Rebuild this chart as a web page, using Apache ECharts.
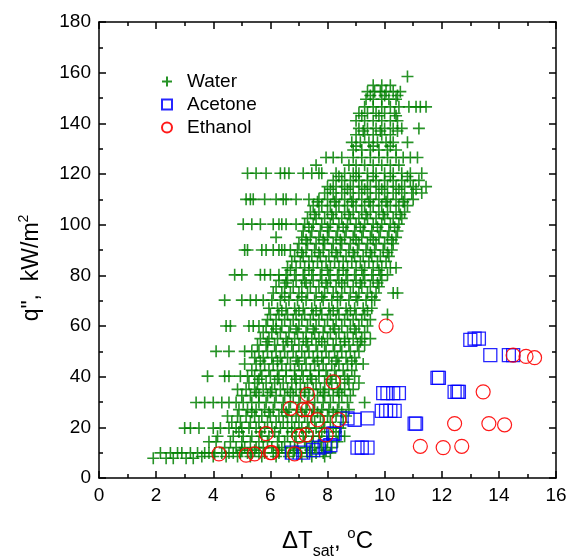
<!DOCTYPE html>
<html>
<head>
<meta charset="utf-8">
<script src="https://cdn.jsdelivr.net/npm/echarts@6/dist/echarts.min.js"></script>
<style>
  html, body { margin: 0; padding: 0; background: #fff; }
  #main { width: 575px; height: 556px; }
</style>
</head>
<body>
<div id="main"></div>
<script>
//- 水的数据：每行 [q, [dT...]]
var waterRows = [
  [7.8, [1.9, 2.35, 2.6, 3.05, 3.3]],
  [9.9, [2.15, 2.5, 2.75, 2.9, 3.2, 3.45, 3.7, 3.85, 4.05, 4.3, 4.55, 4.7, 4.95, 5.2, 5.35, 5.6, 5.8, 6.1, 6.3, 6.55, 6.8, 7.05, 7.3, 7.6, 7.85, 8.1]],
  [8.5, [3.6, 4.0, 4.45, 4.85, 5.3, 5.7, 6.2, 6.65, 7.1, 7.45, 7.9]],
  [11, [5.0, 5.45, 6.3, 6.85, 7.4, 7.95]],
  [12, [4.4, 4.8, 5.1, 5.5, 5.75, 6.05, 6.4, 6.7, 6.95, 7.25, 7.55, 7.8, 8.15]],
  [14.3, [3.85, 4.1, 4.6, 5.0, 5.3, 5.6, 5.9, 6.25, 6.5, 6.85, 7.2, 7.45, 7.75, 8.0, 8.35]],
  [16.5, [4.15, 4.7, 5.05, 5.35, 5.7, 5.95, 6.3, 6.6, 6.9, 7.15, 7.5, 7.7, 8.05, 8.4, 8.6]],
  [18.2, [4.9, 5.65, 6.15, 6.75, 7.25, 7.8, 8.3]],
  [19.7, [3.0, 3.2, 3.5, 4.0, 4.25, 4.55, 4.8, 5.0, 5.25, 5.5, 5.8, 6.05, 6.35, 6.6, 6.85, 7.1, 7.35, 7.6, 7.9, 8.2, 8.45]],
  [22, [4.65, 4.95, 5.3, 5.6, 5.9, 6.2, 6.45, 6.75, 7.0, 7.3, 7.55, 7.85, 8.1, 8.55]],
  [24.5, [4.5, 4.85, 5.15, 5.45, 5.7, 6.0, 6.3, 6.6, 6.9, 7.2, 7.45, 7.75, 8.0, 8.3, 8.65]],
  [26, [5.35, 5.95, 6.55, 7.1, 7.65, 8.2, 8.5]],
  [27, [4.9, 5.2, 5.5, 5.8, 6.1, 6.4, 6.65, 6.95, 7.25, 7.5, 7.8, 8.05, 8.35, 8.75]],
  [29.8, [3.4, 3.7, 4.0, 4.3, 4.55, 4.8, 5.05, 5.35, 5.6, 5.85, 6.15, 6.45, 6.7, 7.0, 7.3, 7.55, 7.85, 8.1, 8.4, 8.7, 9.3]],
  [32.5, [5.0, 5.3, 5.6, 5.9, 6.2, 6.5, 6.8, 7.05, 7.35, 7.65, 7.9, 8.2, 8.5, 8.8]],
  [33.8, [5.5, 6.0, 6.7, 7.2, 7.85, 8.4]],
  [35, [4.85, 5.15, 5.45, 5.75, 6.05, 6.35, 6.6, 6.9, 7.2, 7.5, 7.75, 8.05, 8.35, 8.6, 8.9]],
  [37.5, [5.25, 5.55, 5.85, 6.15, 6.45, 6.75, 7.05, 7.3, 7.6, 7.9, 8.15, 8.45, 8.75, 9.1]],
  [39, [5.6, 6.25, 6.9, 7.45, 8.1, 8.7]],
  [40.2, [3.8, 4.4, 4.55, 4.95, 5.2, 5.45, 5.7, 6.0, 6.3, 6.55, 6.85, 7.15, 7.4, 7.7, 8.0, 8.3, 8.6, 8.95]],
  [42.5, [5.35, 5.65, 5.95, 6.25, 6.55, 6.85, 7.1, 7.4, 7.7, 7.95, 8.25, 8.55, 8.85]],
  [45, [5.1, 5.5, 5.8, 6.1, 6.4, 6.7, 7.0, 7.25, 7.55, 7.85, 8.15, 8.4, 8.7, 9.0, 9.25]],
  [46.2, [5.65, 6.25, 6.95, 7.65, 8.3, 8.85]],
  [47.5, [5.45, 5.75, 6.05, 6.35, 6.6, 6.9, 7.2, 7.5, 7.8, 8.05, 8.35, 8.65, 8.95]],
  [50, [4.1, 4.55, 5.1, 5.35, 5.6, 5.9, 6.2, 6.5, 6.8, 7.1, 7.35, 7.65, 7.95, 8.25, 8.5, 8.8, 9.1]],
  [52.5, [5.55, 5.85, 6.15, 6.45, 6.75, 7.0, 7.3, 7.6, 7.9, 8.2, 8.45, 8.75, 9.05, 9.3]],
  [53.8, [5.9, 6.6, 7.25, 7.8, 8.6, 9.15]],
  [55, [5.65, 5.95, 6.25, 6.55, 6.85, 7.15, 7.45, 7.7, 8.0, 8.3, 8.6, 8.9, 9.2, 9.5]],
  [57.5, [5.75, 6.05, 6.35, 6.65, 6.95, 7.25, 7.55, 7.85, 8.1, 8.4, 8.7, 9.0, 9.3]],
  [58.8, [6.2, 6.9, 7.5, 8.25, 8.95]],
  [60, [4.45, 4.6, 5.25, 5.4, 5.6, 5.85, 6.1, 6.4, 6.7, 7.0, 7.3, 7.6, 7.9, 8.2, 8.5, 8.8, 9.1, 9.4]],
  [62.5, [5.9, 6.2, 6.5, 6.8, 7.1, 7.4, 7.7, 8.0, 8.3, 8.6, 8.9, 9.2, 9.5]],
  [64.5, [6.0, 6.3, 6.6, 6.9, 7.2, 7.5, 7.8, 8.1, 8.4, 8.7, 9.0, 9.3, 10.1]],
  [66, [6.4, 7.0, 7.6, 8.2, 8.8, 9.4]],
  [67, [5.95, 6.25, 6.55, 6.85, 7.15, 7.45, 7.75, 8.05, 8.35, 8.65, 8.95, 9.25, 9.55]],
  [70.2, [4.4, 5.0, 5.3, 5.5, 5.75, 6.05, 6.35, 6.65, 6.95, 7.25, 7.55, 7.85, 8.15, 8.45, 8.75, 9.05, 9.35, 9.65]],
  [71.5, [6.5, 7.1, 7.8, 8.35, 9.0, 9.55]],
  [73, [6.1, 6.4, 6.7, 7.0, 7.3, 7.6, 7.9, 8.2, 8.5, 8.8, 9.1, 9.4, 9.7, 10.3, 10.45]],
  [75.5, [6.2, 6.5, 6.8, 7.1, 7.4, 7.7, 8.0, 8.3, 8.6, 8.9, 9.2, 9.5, 9.8]],
  [77, [6.55, 7.25, 7.95, 8.5, 9.15, 9.75]],
  [78, [6.3, 6.6, 6.9, 7.2, 7.5, 7.8, 8.1, 8.4, 8.7, 9.0, 9.3, 9.6, 9.9]],
  [80.2, [4.75, 5.0, 5.65, 5.8, 6.0, 6.3, 6.55, 6.85, 7.15, 7.45, 7.75, 8.05, 8.35, 8.65, 8.95, 9.25, 9.55, 9.85, 10.1]],
  [82, [6.7, 7.35, 8.0, 8.55, 9.2, 9.8]],
  [83, [6.6, 6.9, 7.2, 7.5, 7.8, 8.1, 8.4, 8.7, 9.0, 9.3, 9.6, 9.9, 10.2, 10.4]],
  [85.5, [6.75, 7.05, 7.35, 7.65, 7.95, 8.25, 8.55, 8.85, 9.15, 9.45, 9.75, 10.05]],
  [87.5, [6.85, 7.15, 7.45, 7.75, 8.05, 8.35, 8.65, 8.95, 9.25, 9.55, 9.85, 10.15]],
  [89, [7.1, 7.7, 8.3, 8.9, 9.5, 10.1]],
  [90, [5.1, 5.2, 5.7, 5.85, 6.1, 6.3, 6.4, 6.5, 6.7, 6.95, 7.25, 7.55, 7.85, 8.15, 8.45, 8.75, 9.05, 9.35, 9.65, 9.95, 10.25]],
  [92.5, [7.0, 7.3, 7.6, 7.9, 8.2, 8.5, 8.8, 9.1, 9.4, 9.7, 10.0, 10.3]],
  [94, [7.25, 7.85, 8.45, 9.0, 9.6, 10.25]],
  [95, [6.2, 7.1, 7.4, 7.7, 8.0, 8.3, 8.6, 8.9, 9.2, 9.5, 9.8, 10.1, 10.4]],
  [97.5, [7.15, 7.45, 7.75, 8.05, 8.35, 8.65, 8.95, 9.25, 9.55, 9.85, 10.15, 10.45]],
  [99, [7.35, 8.0, 8.55, 9.15, 9.75, 10.35]],
  [100.2, [5.05, 5.35, 5.65, 6.1, 6.3, 6.4, 6.55, 6.9, 7.2, 7.5, 7.8, 8.1, 8.4, 8.7, 9.0, 9.3, 9.6, 9.9, 10.2, 10.5]],
  [102.5, [7.3, 7.6, 7.9, 8.2, 8.5, 8.8, 9.1, 9.4, 9.7, 10.0, 10.3, 10.6]],
  [104, [7.55, 8.15, 8.75, 9.35, 9.95, 10.55]],
  [105, [7.4, 7.7, 8.0, 8.3, 8.6, 8.9, 9.2, 9.5, 9.8, 10.1, 10.4, 10.7]],
  [107.5, [7.5, 7.8, 8.1, 8.4, 8.7, 9.0, 9.3, 9.6, 9.9, 10.2, 10.5, 10.8]],
  [109, [7.65, 8.25, 8.85, 9.45, 10.05, 10.65]],
  [110, [5.15, 5.3, 5.4, 5.8, 6.2, 6.45, 6.55, 6.9, 7.35, 7.7, 8.0, 8.3, 8.6, 8.9, 9.2, 9.5, 9.8, 10.1, 10.4, 10.7, 11.0]],
  [112.5, [7.9, 8.2, 8.5, 8.8, 9.1, 9.4, 9.7, 10.0, 10.3, 10.6, 10.95, 11.3]],
  [114, [8.1, 8.7, 9.3, 9.9, 10.5, 11.1]],
  [115, [8.0, 8.3, 8.6, 8.9, 9.2, 9.5, 9.8, 10.1, 10.4, 10.7, 11.0, 11.45]],
  [117.5, [8.2, 8.5, 8.8, 9.1, 9.4, 9.7, 10.0, 10.3, 10.6, 10.9, 11.2]],
  [119, [8.4, 9.0, 9.6, 10.2, 10.8]],
  [120.3, [5.2, 5.5, 5.85, 6.35, 6.5, 6.65, 7.15, 7.45, 7.7, 7.8, 8.3, 8.6, 8.9, 9.1, 9.4, 9.7, 10.0, 10.3, 10.6, 10.9, 11.3]],
  [123.5, [7.6, 8.75, 9.0, 9.3, 9.6, 9.9, 10.2, 10.5]],
  [126.5, [7.95, 8.2, 8.5, 8.9, 9.2, 9.5, 9.8, 10.1, 10.4, 10.65, 10.9, 11.15]],
  [129.5, [8.9, 9.2, 9.5, 9.8, 10.1, 10.4]],
  [131, [9.0, 9.6, 10.2]],
  [132.5, [8.85, 9.15, 9.45, 9.75, 10.05, 10.3, 10.8]],
  [135.5, [9.0, 9.3, 9.6, 9.9, 10.2]],
  [137, [9.25, 9.85, 10.45]],
  [138, [9.1, 9.4, 9.7, 10.0, 10.3, 10.6, 11.2]],
  [141, [9.0, 9.3, 9.6, 9.9, 10.2, 10.45]],
  [143, [9.2, 9.8, 10.4]],
  [144, [9.1, 9.4, 9.7, 10.0, 10.35]],
  [146.5, [9.3, 9.6, 9.9, 10.2, 10.5, 10.85, 11.1, 11.25, 11.45]],
  [149.5, [9.35, 9.6, 9.9, 10.15, 10.4]],
  [151, [9.5, 10.0, 10.45]],
  [152.5, [9.4, 9.65, 9.85, 10.05, 10.3, 10.55]],
  [155, [9.6, 9.9, 10.2]],
  [158.5, [10.8]]
];

//- 丙酮 [dT, q]
var acetoneData = [
  [6.75, 10], [7.15, 10], [7.5, 11], [7.7, 12], [7.9, 12.5], [8.1, 13],
  [8.2, 17.5], [8.25, 17.5], [8.7, 23.5], [8.95, 23], [9.4, 23.5],
  [9.05, 12], [9.2, 12], [9.4, 12],
  [9.9, 26.5], [10.05, 26.5], [10.2, 26.5], [10.35, 26.5],
  [9.95, 33.5], [10.1, 33.5], [10.3, 33.5], [10.5, 33.5],
  [11.05, 21.5], [11.1, 21.5], [11.85, 39.5], [11.9, 39.5],
  [12.45, 34], [12.55, 34], [12.6, 34],
  [13.0, 54.5], [13.15, 55], [13.3, 55], [13.7, 48.5], [14.35, 48.5], [14.5, 48.5]
];

//- 乙醇 [dT, q]
var ethanolData = [
  [4.2, 9.5], [5.15, 9], [5.45, 9.5], [6.0, 10], [6.05, 10], [6.85, 9.5],
  [5.85, 17.5], [7.0, 16.5], [7.25, 17], [7.95, 17],
  [6.7, 27.5], [7.15, 27], [7.3, 27], [7.3, 33], [7.65, 23], [8.4, 23], [8.2, 38],
  [10.05, 60], [11.25, 12.5], [12.05, 12], [12.7, 12.5],
  [12.45, 21.5], [13.65, 21.5], [14.2, 21], [13.45, 34],
  [14.5, 48.5], [14.95, 48], [15.25, 47.5]
];

var xTicks = { min: 0, max: 16, step: 2 };
var yTicks = { min: 0, max: 180, step: 20 };

(function () {
  var FONT = 'Arial, "Liberation Sans", sans-serif';

  var init = function () {
    var waterData = [];
    waterRows.forEach(function (row) {
      row[1].forEach(function (x) {
        waterData.push([x, row[0]]);
      });
    });
    render(waterData);
  };

  //- 坐标轴公共样式
  var frameAxis = function (t, pos, showLabel) {
    return {
      type: 'value',
      position: pos,
      min: t.min,
      max: t.max,
      interval: t.step,
      axisLine: { onZero: false, lineStyle: { color: '#000', width: 1.5 } },
      axisTick: { inside: true, length: 7, lineStyle: { color: '#000', width: 1.5 } },
      minorTick: { show: true, splitNumber: 2, length: 4, lineStyle: { color: '#000', width: 1.5 } },
      splitLine: { show: false },
      axisLabel: { show: showLabel, color: '#000', fontSize: 19, fontFamily: FONT, margin: 8 }
    };
  };

  var render = function (waterData) {
    var myChart = echarts.init(document.getElementById('main'));

    var xBottom = frameAxis(xTicks, 'bottom', true);
    xBottom.name = '{a|ΔT}{s|sat}{a|, }{o|o}{a|C}';
    xBottom.nameLocation = 'middle';
    xBottom.nameGap = 44;
    xBottom.nameTextStyle = {
      rich: {
        a: { fontSize: 24, fontFamily: FONT, color: '#000', lineHeight: 38 },
        s: { fontSize: 16, fontFamily: FONT, color: '#000', lineHeight: 16, verticalAlign: 'bottom' },
        o: { fontSize: 15, fontFamily: FONT, color: '#000', lineHeight: 15, verticalAlign: 'top', padding: [4, 0, 0, 0] }
      }
    };

    var yLeft = frameAxis(yTicks, 'left', true);
    yLeft.name = '{a|q",  kW/m}{s|2}';
    yLeft.nameLocation = 'middle';
    yLeft.nameGap = 52;
    yLeft.nameTextStyle = {
      padding: [0, 36, 0, 0],
      rich: {
        a: { fontSize: 23, fontFamily: FONT, color: '#000', lineHeight: 30 },
        s: { fontSize: 14, fontFamily: FONT, color: '#000', lineHeight: 14, verticalAlign: 'top' }
      }
    };

    myChart.setOption({
      animation: false,
      backgroundColor: '#fff',
      grid: { left: 99, right: 19, top: 22, bottom: 78, containLabel: false, outerBoundsMode: 'none' },
      xAxis: [xBottom, frameAxis(xTicks, 'top', false)],
      yAxis: [yLeft, frameAxis(yTicks, 'right', false)],
      legend: {
        orient: 'vertical',
        left: 156,
        top: 67,
        itemWidth: 10,
        itemHeight: 10,
        itemGap: 4,
        formatter: function (name) { return '{t|' + name + '}'; },
        textStyle: {
          rich: { t: { fontSize: 19, fontFamily: FONT, color: '#000', padding: [0, 0, 0, 10], lineHeight: 19 } }
        },
        data: ['Water', 'Acetone', 'Ethanol']
      },
      series: [
        {
          name: 'Water',
          type: 'scatter',
          symbol: 'path://M0,5H10M5,0V10',
          symbolSize: 12,
          data: waterData,
          itemStyle: { color: 'rgba(0,0,0,0)', borderColor: '#008000', borderWidth: 1.6, opacity: 0.85 }
        },
        {
          name: 'Acetone',
          type: 'scatter',
          symbol: 'rect',
          symbolSize: 13,
          data: acetoneData,
          itemStyle: { color: 'rgba(0,0,0,0)', borderColor: '#0000ff', borderWidth: 1.3, opacity: 0.85 }
        },
        {
          name: 'Ethanol',
          type: 'scatter',
          symbol: 'circle',
          symbolSize: 14,
          data: ethanolData,
          itemStyle: { color: 'rgba(0,0,0,0)', borderColor: '#ff0000', borderWidth: 1.2, opacity: 0.9 }
        }
      ]
    });
  };

  init();
})();
</script>
</body>
</html>
